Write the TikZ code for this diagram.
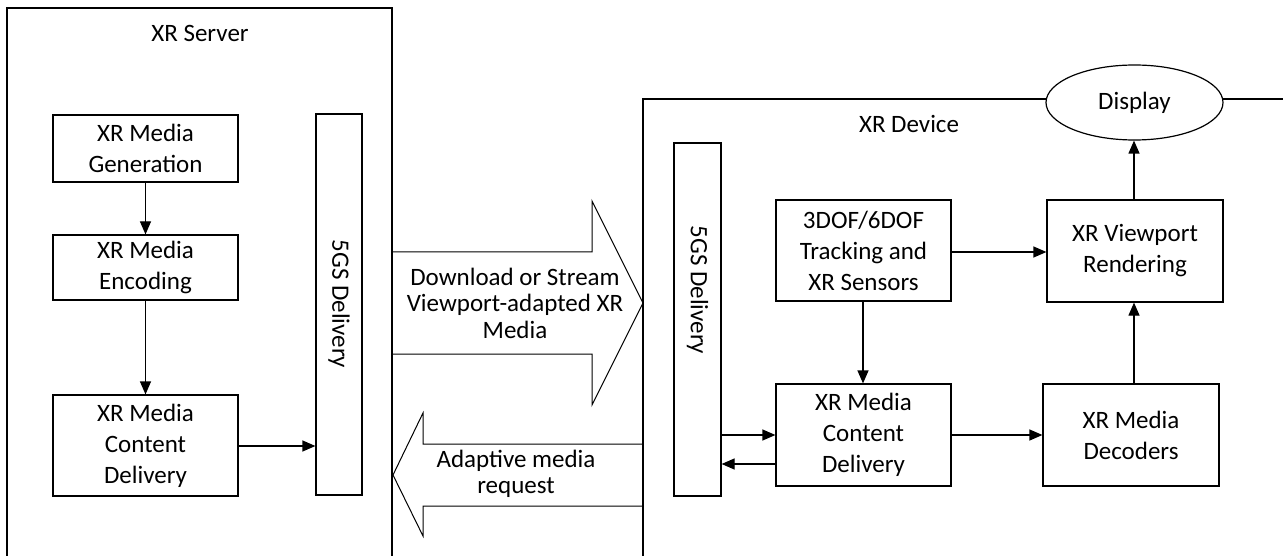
\documentclass[tikz,border=0pt]{standalone}
\usepackage{fontspec}
\setmainfont{Carlito}
\usetikzlibrary{arrows.meta,shapes.geometric}
\begin{document}
\begin{tikzpicture}[x=1pt,y=-1pt,
  every node/.style={font=\fontsize{25}{26.5}\selectfont, align=center, inner sep=0pt},
  blk/.style={draw, line width=1.2pt, fill=white, font=\fontsize{25}{31}\selectfont},
  line/.style={line width=1.2pt},
  arr/.style={line width=1.2pt, -{Triangle[length=13pt,width=11pt]}},
  bigarrow/.style={line width=1pt, line join=miter}]
\useasboundingbox (0,0) rectangle (1283,556);
\clip (0,0) rectangle (1283,556);
\fill[white] (0,0) rectangle (1283,556);

% XR Server container
\draw[line] (7,570) -- (7,8) -- (392,8) -- (392,570);
\node (srvlbl) at (200,33) {XR Server};

% XR Device container
\draw[line] (643,570) -- (643,99) -- (1300,99);
\node[ellipse, draw, line width=1.2pt, fill=white, minimum width=177pt, minimum height=75pt] (disp) at (1134.5,102.5) {Display};
\node (devlbl) at (909,124) {XR Device};

% Server blocks
\node[blk, minimum width=185pt, minimum height=67pt] (gen) at (145.5,148.5) {XR Media\\Generation};
\node[blk, minimum width=185pt, minimum height=65pt] (enc) at (145.5,267.5) {XR Media\\Encoding};
\node[blk, minimum width=185pt, minimum height=101pt] (scd) at (145.5,445.5) {XR Media\\Content\\Delivery};
\node[blk, minimum width=46pt, minimum height=381pt] (s5g) at (339,304.5) {};
\node[rotate=-90] (s5glbl) at (339,304) {5GS Delivery};

\draw[arr] (gen.south) -- (enc.north);
\draw[arr] (enc.south) -- (scd.north);
\draw[arr] (scd.east |- 0,446) -- (s5g.west |- 0,446);

% Big arrows
\draw[bigarrow] (392,252) -- (592,252) -- (592,201) -- (643,303) -- (592,405) -- (592,354) -- (392,354);
\node (dl) at (515,303) {Download or Stream\\Viewport-adapted XR\\Media};
\draw[bigarrow] (643,444) -- (423,444) -- (423,413) -- (393,475) -- (423,536) -- (423,506) -- (643,506);
\node (req) at (516,474) {Adaptive media\\request};

% Device blocks
\node[blk, minimum width=47pt, minimum height=353pt] (d5g) at (697.5,319.5) {};
\node[rotate=-90] (d5glbl) at (697.5,290) {5GS Delivery};
\node[blk, minimum width=175pt, minimum height=101pt] (tdof) at (863.5,250.5) {3DOF/6DOF\\Tracking and\\XR Sensors};
\node[blk, minimum width=176pt, minimum height=102pt] (vpr) at (1135,251) {XR Viewport\\Rendering};
\node[blk, minimum width=175pt, minimum height=102pt] (dcd) at (863.5,435) {XR Media\\Content\\Delivery};
\node[blk, minimum width=176pt, minimum height=102pt] (dec) at (1131,435) {XR Media\\Decoders};

\draw[arr] (tdof.east |- 0,252) -- (vpr.west |- 0,252);
\draw[arr] (tdof.south -| 863,0) -- (dcd.north -| 863,0);
\draw[arr] (dcd.east) -- (dec.west);
\draw[arr] (dec.north -| 1134,0) -- (vpr.south -| 1134,0);
\draw[arr] (vpr.north -| 1134,0) -- (disp.south -| 1134,0);
\draw[arr] (d5g.east |- 0,435) -- (dcd.west |- 0,435);
\draw[arr] (dcd.west |- 0,464) -- (d5g.east |- 0,464);
\end{tikzpicture}
\end{document}
